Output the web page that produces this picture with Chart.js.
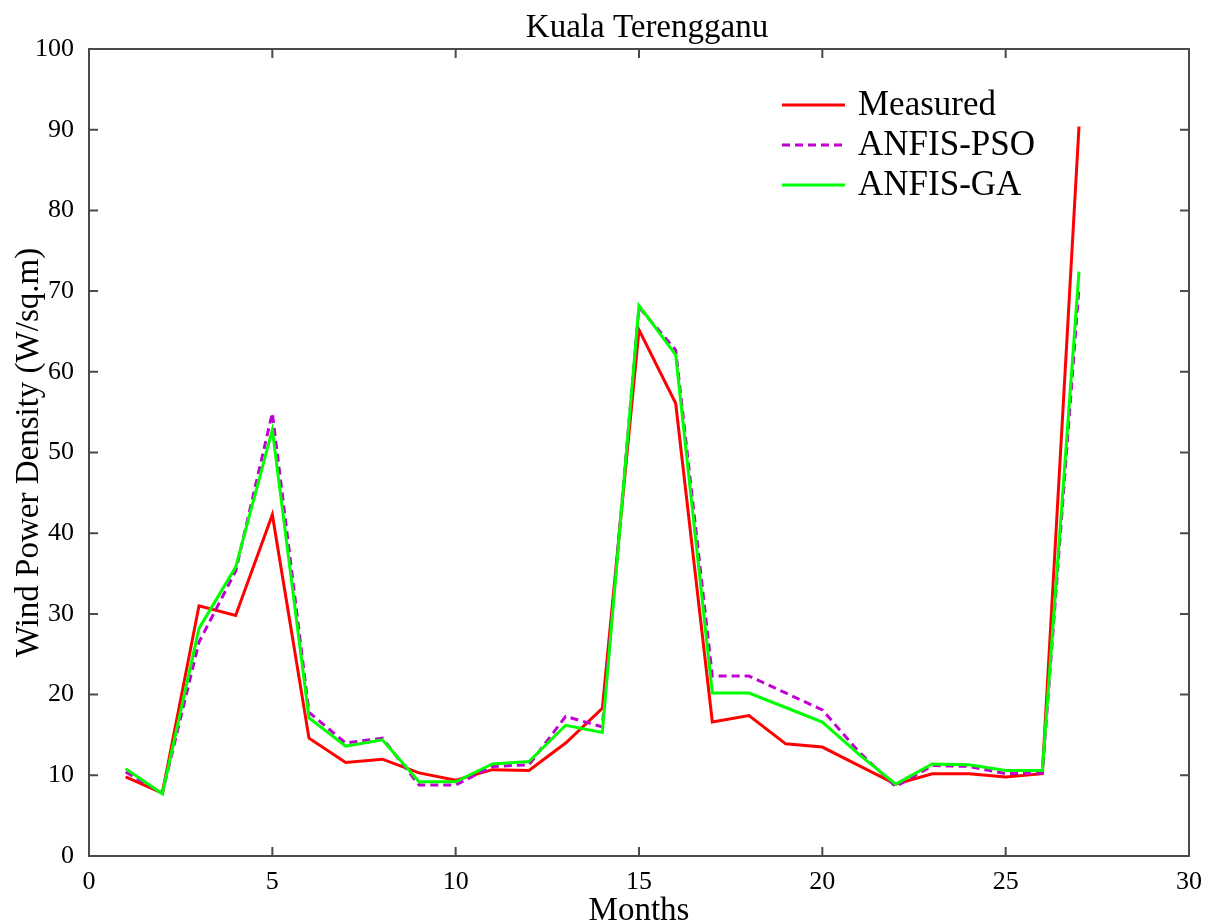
<!DOCTYPE html>
<html>
<head>
<meta charset="utf-8">
<title>Kuala Terengganu</title>
<script src="https://cdn.jsdelivr.net/npm/chart.js@4.4.1/dist/chart.umd.min.js"></script>
<style>
    html, body { margin: 0; padding: 0; background: #ffffff; overflow: hidden; }
    #wrap { position: relative; width: 1222px; height: 924px; }
</style>
</head>
<body>
<div id="wrap"><canvas id="windChart"></canvas></div>
<script>
// Monthly wind power density, Kuala Terengganu (W/sq.m)
var months = [1, 2, 3, 4, 5, 6, 7, 8, 9, 10, 11, 12, 13, 14, 15, 16, 17, 18, 19, 20, 21, 22, 23, 24, 25, 26, 27];
var measured = [9.8, 7.8, 31.0, 29.8, 42.3, 14.6, 11.6, 12.0, 10.3, 9.4, 10.7, 10.6, 14.0, 18.3, 65.2, 56.1, 16.6, 17.4, 13.9, 13.5, 11.2, 8.9, 10.2, 10.2, 9.8, 10.2, 90.4];
var anfisPso = [10.4, 7.8, 26.5, 35.3, 54.9, 17.8, 14.0, 14.6, 8.8, 8.8, 11.1, 11.3, 17.3, 16.0, 68.0, 62.7, 22.3, 22.3, 20.2, 18.1, 12.9, 8.6, 11.2, 11.1, 10.2, 10.3, 70.5];
var anfisGa = [10.8, 7.7, 28.2, 35.8, 52.8, 17.1, 13.6, 14.4, 9.2, 9.2, 11.4, 11.7, 16.2, 15.3, 68.2, 62.1, 20.2, 20.2, 18.4, 16.6, 12.6, 8.9, 11.4, 11.3, 10.6, 10.6, 72.4];
var xTicks = [0, 5, 10, 15, 20, 25, 30];
var yTicks = [0, 10, 20, 30, 40, 50, 60, 70, 80, 90, 100];

var serif = '"Liberation Serif", "Times New Roman", serif';

function toPoints(values) {
    return values.map(function (v, i) { return { x: months[i], y: v }; });
}

// Box around the plot with short inward ticks on all four sides
var framePlugin = {
    id: 'frame',
    afterDatasetsDraw: function (chart) {
        var ctx = chart.ctx;
        var area = chart.chartArea;
        var xs = chart.scales.x, ys = chart.scales.y;
        var len = 9;
        ctx.save();
        ctx.strokeStyle = '#4a4a4a';
        ctx.lineWidth = 2;
        ctx.strokeRect(area.left, area.top, area.right - area.left, area.bottom - area.top);
        ctx.beginPath();
        xTicks.forEach(function (t) {
            var px = xs.getPixelForValue(t);
            ctx.moveTo(px, area.bottom); ctx.lineTo(px, area.bottom - len);
            ctx.moveTo(px, area.top); ctx.lineTo(px, area.top + len);
        });
        yTicks.forEach(function (t) {
            var py = ys.getPixelForValue(t);
            ctx.moveTo(area.left, py); ctx.lineTo(area.left + len, py);
            ctx.moveTo(area.right, py); ctx.lineTo(area.right - len, py);
        });
        ctx.stroke();
        ctx.restore();
    }
};

// Title sits a little right of the plot centre, above the box
var topTitle = {
    id: 'topTitle',
    afterDraw: function (chart) {
        var ctx = chart.ctx;
        ctx.save();
        ctx.font = '33px ' + serif;
        ctx.fillStyle = '#000000';
        ctx.textAlign = 'center';
        ctx.textBaseline = 'alphabetic';
        ctx.fillText('Kuala Terengganu', 647, 37);
        ctx.restore();
    }
};

// Legend drawn inside the plot, top right, without a box
var insideLegend = {
    id: 'insideLegend',
    afterDraw: function (chart) {
        var ctx = chart.ctx;
        var x0 = 782, x1 = 845, tx = 858, y = 105, step = 40;
        ctx.save();
        ctx.font = '35px ' + serif;
        ctx.textBaseline = 'middle';
        ctx.fillStyle = '#000000';
        chart.data.datasets.forEach(function (ds, i) {
            var yy = y + i * step;
            ctx.strokeStyle = ds.borderColor;
            ctx.lineWidth = ds.borderWidth;
            ctx.setLineDash(ds.borderDash || []);
            ctx.beginPath();
            ctx.moveTo(x0, yy);
            ctx.lineTo(x1, yy);
            ctx.stroke();
            ctx.setLineDash([]);
            ctx.fillText(ds.label, tx, yy + 1);
        });
        ctx.restore();
    }
};

var ctx = document.getElementById('windChart').getContext('2d');
var windChart = new Chart(ctx, {
    type: 'line',
    data: {
        datasets: [{
            label: 'Measured',
            data: toPoints(measured),
            borderColor: '#ff0000',
            borderWidth: 3,
            pointRadius: 0,
            order: 3
        }, {
            label: 'ANFIS-PSO',
            data: toPoints(anfisPso),
            borderColor: '#c000d0',
            borderWidth: 3,
            borderDash: [8, 5],
            pointRadius: 0,
            order: 2
        }, {
            label: 'ANFIS-GA',
            data: toPoints(anfisGa),
            borderColor: '#00ff00',
            borderWidth: 3,
            pointRadius: 0,
            order: 1
        }]
    },
    options: {
        responsive: true,
        maintainAspectRatio: false,
        animation: false,
        layout: {
            padding: { left: 0, right: 33, top: 49, bottom: 0 }
        },
        plugins: {
            legend: { display: false },
            tooltip: { enabled: false },
            title: { display: false }
        },
        scales: {
            x: {
                type: 'linear',
                min: 0,
                max: 30,
                grid: { display: false },
                border: { display: false },
                afterFit: function (scale) { scale.height = 68; },
                ticks: {
                    stepSize: 5,
                    color: '#000000',
                    padding: 3,
                    maxRotation: 0,
                    font: { family: serif, size: 26 }
                },
                title: {
                    display: true,
                    text: 'Months',
                    color: '#000000',
                    font: { family: serif, size: 33, lineHeight: 0.75 },
                    padding: { top: 0, bottom: 0 }
                }
            },
            y: {
                type: 'linear',
                min: 0,
                max: 100,
                grid: { display: false },
                border: { display: false },
                afterFit: function (scale) { scale.width = 89; },
                ticks: {
                    stepSize: 10,
                    color: '#000000',
                    padding: 7,
                    font: { family: serif, size: 26 }
                },
                title: {
                    display: true,
                    text: 'Wind Power Density (W/sq.m)',
                    color: '#000000',
                    font: { family: serif, size: 33, lineHeight: 1.2 },
                    padding: { top: 10, bottom: 0 }
                }
            }
        }
    },
    plugins: [framePlugin, topTitle, insideLegend]
});
</script>
</body>
</html>
